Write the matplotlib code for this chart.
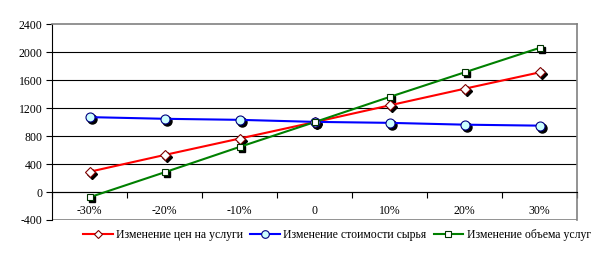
import matplotlib
matplotlib.use("Agg")
import matplotlib.pyplot as plt
from matplotlib.transforms import offset_copy
from matplotlib.lines import Line2D

categories = ["-30%", "-20%", "-10%", "0", "10%", "20%", "30%"]
price = [290, 530, 765, 1000, 1240, 1478, 1712]
raw_cost = [1072, 1048, 1033, 1004, 990, 964, 950]
volume = [-75, 282, 645, 1000, 1360, 1712, 2062]
labels = ["Изменение цен на услуги", "Изменение стоимости сырья", "Изменение объема услуг"]
yticks = [-400, 0, 400, 800, 1200, 1600, 2000, 2400]

plt.rcParams['font.family'] = ['Liberation Serif', 'DejaVu Serif']

fig = plt.figure(figsize=(5.94, 2.54), dpi=100)
ax = fig.add_axes([52/594, 1-220/254, 525/594, (220-24.3)/254])

x = list(range(len(categories)))
series = [
    (price, "#ff0000", "D", "white", "#800000", 5.5),
    (raw_cost, "#0000ff", "o", "#ccffff", "#000080", 6.5),
    (volume, "#008000", "s", "white", "#003300", 5.0),
]
shadow_tr = offset_copy(ax.transData, fig=fig, x=2, y=-2, units='dots')
handles = []
for vals, col, mk, fc, ec, ms in series:
    ax.plot(x, vals, linestyle='none', marker=mk, ms=ms, mfc='black', mec='black',
            transform=shadow_tr, zorder=2, clip_on=False)
    ax.plot(x, vals, color=col, lw=1.5, zorder=3, clip_on=False)
    ax.plot(x, vals, linestyle='none', marker=mk, ms=ms, mfc=fc, mec=ec, mew=0.8,
            zorder=4, clip_on=False)
    handles.append(Line2D([], [], color=col, lw=1.5, marker=mk, ms=ms-1, mfc=fc, mec=ec, mew=0.8))

ax.set_xlim(-0.5, len(categories) - 0.5)
ax.set_ylim(-400, 2400)
ax.set_yticks(yticks)
ax.set_yticklabels([str(v) for v in yticks], fontsize=8.5)
for v in yticks[1:-1]:
    ax.axhline(v, color='black', lw=0.8, zorder=1)
ax.axhline(-400, color='#808080', lw=1.2, zorder=1)

ax.spines['bottom'].set_position(('data', 0))
ax.spines['bottom'].set_color('black')
ax.spines['bottom'].set_linewidth(0.8)
ax.spines['left'].set_color('black')
ax.spines['left'].set_linewidth(0.8)
ax.spines['top'].set_color('#808080')
ax.spines['right'].set_color('#808080')
ax.spines['top'].set_linewidth(1.2)
ax.spines['right'].set_linewidth(1.2)

ax.set_xticks([i + 0.5 for i in range(-1, len(categories))])
ax.set_xticklabels([])
ax.set_xticks(x, minor=True)
ax.set_xticklabels(categories, minor=True, fontsize=8.5)
ax.tick_params(axis='x', which='major', direction='out', length=4, width=0.8)
ax.tick_params(axis='x', which='minor', length=0, pad=9)
ax.tick_params(axis='y', direction='out', length=4, width=0.8, pad=3)

fig.legend(handles, labels, loc='center', bbox_to_anchor=(337/594, 1-235/254), ncol=3,
           frameon=False, fontsize=8.5, handlelength=2.5, handletextpad=0.3,
           columnspacing=0.6, borderpad=0)

fig.savefig("out.png", dpi=100, facecolor='white')
